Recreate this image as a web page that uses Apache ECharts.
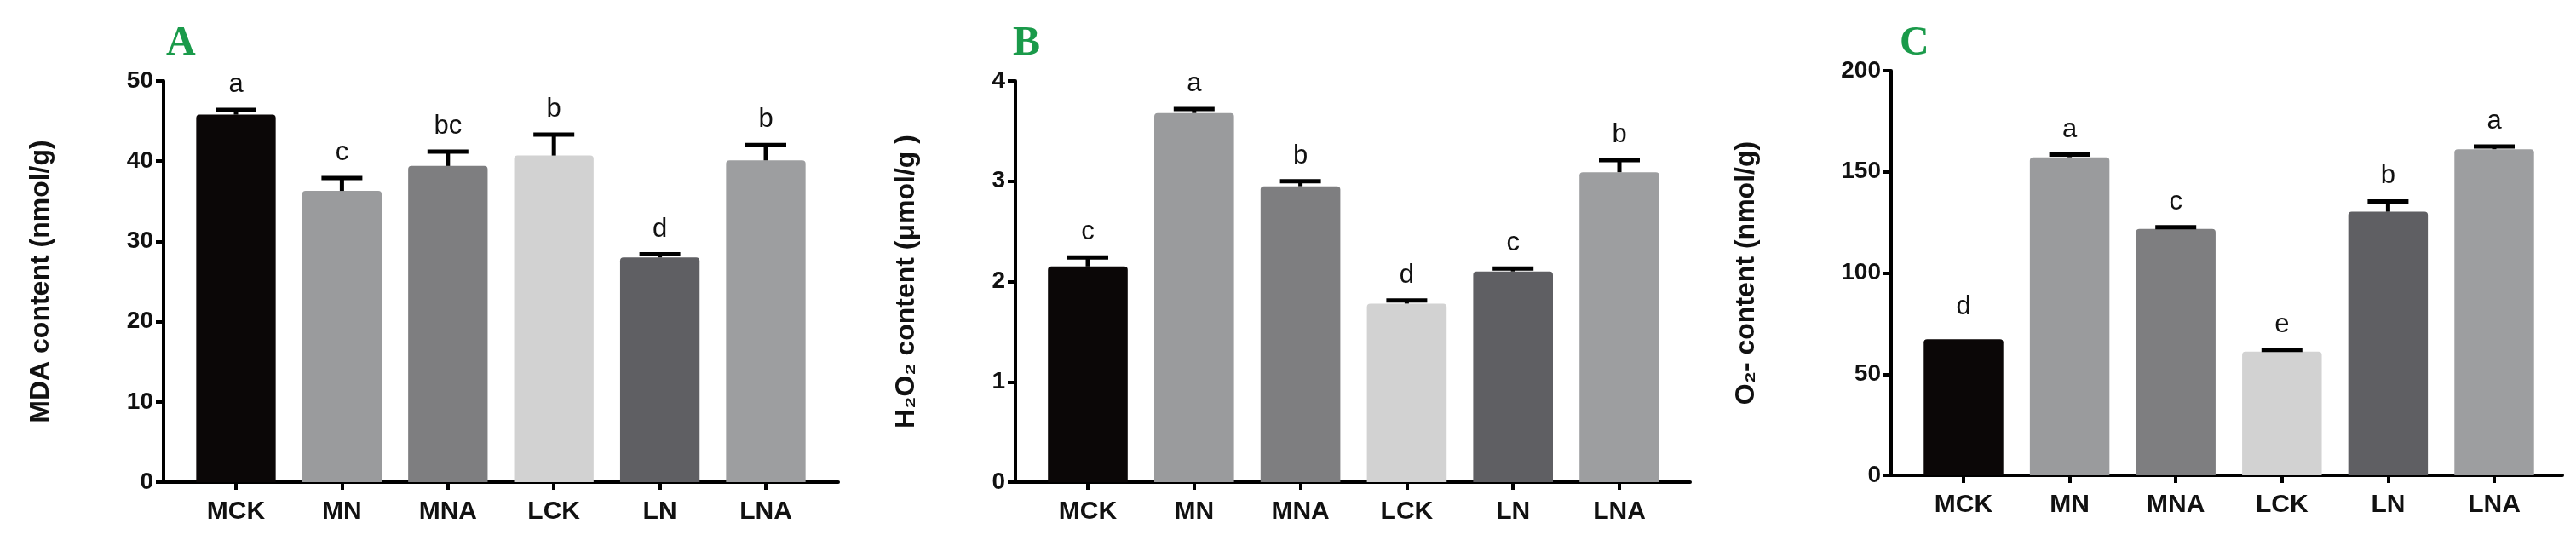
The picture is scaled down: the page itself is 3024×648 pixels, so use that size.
<!DOCTYPE html>
<html><head><meta charset="utf-8">
<script src="https://cdn.jsdelivr.net/npm/echarts@6/dist/echarts.min.js"></script>
<style>html,body{margin:0;padding:0;background:#fff}#c{width:3024px;height:648px}</style>
</head><body><div id="c"></div>
<script>
const categories = ['MCK','MN','MNA','LCK','LN','LNA'];
const barColors = ['#0b0707','#9a9b9d','#7e7e80','#d2d2d2','#5f5f63','#9d9ea0'];
const mdaValues = [45.8, 36.3, 39.4, 40.7, 28.0, 40.1];
const mdaErrTop = [46.4, 37.9, 41.2, 43.3, 28.4, 42.0];
const mdaLetters = ['a','c','bc','b','d','b'];
const h2o2Values = [2.15, 3.68, 2.95, 1.78, 2.10, 3.09];
const h2o2ErrTop = [2.24, 3.72, 3.00, 1.81, 2.13, 3.21];
const h2o2Letters = ['c','a','b','d','c','b'];
const o2Values = [67.3, 157.2, 121.8, 61.2, 130.3, 161.2];
const o2ErrTop = [67.3, 158.5, 122.6, 62.0, 135.4, 162.5];
const o2Letters = ['d','a','c','e','b','a'];

const panels = [
  {tag:'A', tagX:211, tagY:54, name:'MDA content (nmol/g)', max:50, interval:10, values:mdaValues, err:mdaErrTop, letters:mdaLetters,
   axLeft:192, axWidth:792, top:95, bottom:566, barLeft:214.8, barWidth:746.4, nameGap:128},
  {tag:'B', tagX:1205, tagY:54, name:'H₂O₂ content (μmol/g )', max:4, interval:1, values:h2o2Values, err:h2o2ErrTop, letters:h2o2Letters,
   axLeft:1192, axWidth:792, top:95, bottom:566, barLeft:1214.6, barWidth:748.8, nameGap:112},
  {tag:'C', tagX:2246, tagY:54, name:'O₂- content (nmol/g)', max:200, interval:50, values:o2Values, err:o2ErrTop, letters:o2Letters,
   axLeft:2220, axWidth:788, top:83, bottom:558, barLeft:2242.7, barWidth:747.6, nameGap:154}
];

const grid=[], xAxis=[], yAxis=[], series=[], graphic=[];
const lab = {fontFamily:'Liberation Sans, Arial', fontWeight:'bold', color:'#111'};
panels.forEach((p,k)=>{
  const h = p.bottom - p.top;
  grid.push({left:p.axLeft, top:p.top, width:p.axWidth, height:h});
  grid.push({left:p.barLeft, top:p.top, width:p.barWidth, height:h});
  xAxis.push({gridIndex:2*k, type:'value', min:0, max:1, axisLine:{show:true,onZero:false,lineStyle:{color:'#000',width:4}}, axisTick:{show:false}, axisLabel:{show:false}, splitLine:{show:false}});
  xAxis.push({gridIndex:2*k+1, type:'category', data:categories, axisLine:{show:false}, axisTick:{show:true,alignWithLabel:true,length:9,lineStyle:{color:'#000',width:4}},
    axisLabel:Object.assign({fontSize:30, margin:20}, lab)});
  yAxis.push({gridIndex:2*k, type:'value', min:0, max:p.max, interval:p.interval, name:p.name, nameLocation:'middle', nameRotate:90, nameGap:p.nameGap,
    nameTextStyle:Object.assign({fontSize:32}, lab),
    axisLine:{show:true,lineStyle:{color:'#000',width:4}}, axisTick:{show:true,length:9,lineStyle:{color:'#000',width:4}},
    axisLabel:Object.assign({fontSize:28, margin:12}, lab), splitLine:{show:false}});
  yAxis.push({gridIndex:2*k+1, type:'value', min:0, max:p.max, show:false, splitLine:{show:false}});
  series.push({type:'bar', xAxisIndex:2*k+1, yAxisIndex:2*k+1, barWidth:'75%', z:2,
    data:p.values.map((v,i)=>({value:v, itemStyle:{color:barColors[i], borderRadius:[4,4,0,0]}}))});
  series.push({type:'custom', xAxisIndex:2*k+1, yAxisIndex:2*k+1, z:5,
    data:p.values.map((v,i)=>[i, v, p.err[i]]),
    renderItem:function(params, api){
      const i=api.value(0);
      const a=api.coord([i, api.value(1)]);
      const b=api.coord([i, api.value(2)]);
      const ch=[];
      const hasErr = api.value(2) > api.value(1);
      if (hasErr) {
        ch.push({type:'line', shape:{x1:a[0],y1:a[1],x2:b[0],y2:b[1]}, style:{stroke:'#000',lineWidth:5}});
        ch.push({type:'line', shape:{x1:a[0]-24,y1:b[1],x2:a[0]+24,y2:b[1]}, style:{stroke:'#000',lineWidth:5}});
      }
      ch.push({type:'text', x:a[0], y:b[1]-(hasErr?14:22), style:{text:p.letters[i], fill:'#111', fontSize:31, fontFamily:'Liberation Sans, Arial', align:'center', verticalAlign:'bottom'}});
      return {type:'group', children:ch};
    }});
  graphic.push({type:'text', left:p.tagX-16, top:p.tagY-26, style:{text:p.tag, fill:'#1a9a4a', fontSize:48, fontWeight:'bold', fontFamily:'Liberation Serif, serif'}});
});
const chart = echarts.init(document.getElementById('c'));
chart.setOption({animation:false, backgroundColor:'#fff', grid, xAxis, yAxis, series, graphic});
</script></body></html>
